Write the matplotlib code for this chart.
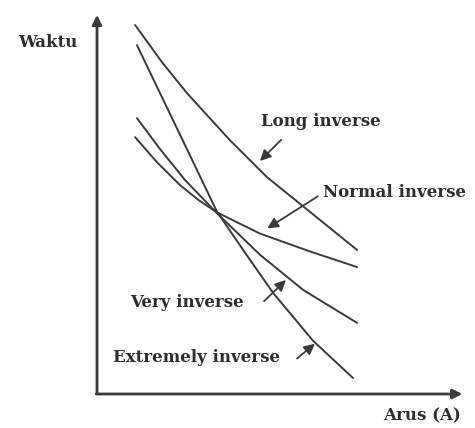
import matplotlib
matplotlib.use("Agg")
from matplotlib import pyplot as plt

# ==================================================
#   DATA (arbitrary units)

long_x = [1.03, 1.75, 2.43, 3.59, 4.59, 5.76, 7.03]
long_y = [9.71, 8.74, 7.92, 6.68, 5.71, 4.79, 3.79]

normal_x = [1.03, 1.62, 2.24, 2.75, 3.24, 4.41, 5.76, 7.03]
normal_y = [6.76, 6.10, 5.50, 5.10, 4.78, 4.22, 3.75, 3.34]

very_x = [1.08, 1.70, 2.38, 3.24, 4.41, 5.57, 7.03]
very_y = [7.26, 6.45, 5.63, 4.76, 3.66, 2.74, 1.87]

extreme_x = [1.08, 1.86, 2.65, 3.24, 4.00, 4.76, 5.84, 6.92]
extreme_y = [9.18, 7.60, 6.00, 4.80, 3.72, 2.66, 1.40, 0.42]

labels = ["Long inverse", "Normal inverse", "Very inverse", "Extremely inverse"]
label_pos = [(6.05, 7.16), (8.03, 5.29), (2.43, 2.42), (2.68, 0.97)]
arrow_tail = [(5.03, 6.74), (6.03, 5.24), (4.46, 2.39), (5.35, 0.89)]
arrow_tip = [(4.35, 6.08), (4.54, 4.32), (5.16, 3.05), (5.95, 1.37)]

x_label = "Arus (A)"
y_label = "Waktu"

# ==================================================
#   PLOT

line_c = "#3a3a3a"
text_c = "#2e2e2e"
font = dict(family="DejaVu Serif", weight="bold", size=12, color=text_c)

fig = plt.figure(figsize=(4.75, 4.28), dpi=100)
ax = fig.add_axes([97/475, 34/428, 370/475, 380/428])
ax.set_xlim(0, 10)
ax.set_ylim(0, 10)
ax.axis("off")

for xs, ys in [(long_x, long_y), (normal_x, normal_y), (very_x, very_y), (extreme_x, extreme_y)]:
    ax.plot(xs, ys, c=line_c, lw=1.4, solid_capstyle="round", solid_joinstyle="round")

# axes drawn as arrows
ax.annotate("", xy=(0, 10.05), xytext=(0, -0.05),
            arrowprops=dict(arrowstyle="-|>", color=line_c, lw=2, mutation_scale=14),
            annotation_clip=False)
ax.annotate("", xy=(9.95, 0), xytext=(-0.1, 0),
            arrowprops=dict(arrowstyle="-|>", color=line_c, lw=2, mutation_scale=14),
            annotation_clip=False)

for lab, pos, tail, tip in zip(labels, label_pos, arrow_tail, arrow_tip):
    ax.text(pos[0], pos[1], lab, ha="center", va="center", **font)
    ax.annotate("", xy=tip, xytext=tail,
                arrowprops=dict(arrowstyle="-|>", color=line_c, lw=1.3, mutation_scale=16))

ax.text(-1.32, 9.24, y_label, ha="center", va="center", clip_on=False, **font)
ax.text(8.78, -0.58, x_label, ha="center", va="center", clip_on=False, **font)

fig.savefig("out.png", dpi=100, facecolor="white")
